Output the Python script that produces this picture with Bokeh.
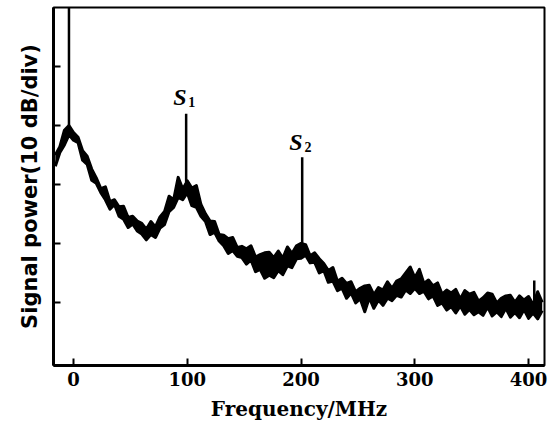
from bokeh.plotting import figure
from bokeh.models import Range1d, FixedTicker
from bokeh.core.properties import value
from bokeh.embed import file_html
from bokeh.resources import INLINE

# ---- data ----
freq_mhz = [-16, -12, -8, -4, 0, 4, 8, 12, 16, 20, 24, 28, 32, 36, 40, 44, 48, 52, 56, 60,
            64, 68, 72, 76, 80, 84, 88, 92, 96, 100, 104, 108, 112, 116, 120, 124, 128, 132, 136, 140,
            144, 148, 152, 156, 160, 164, 168, 172, 176, 180, 184, 188, 192, 196, 200, 204, 208, 212, 216, 220,
            224, 228, 232, 236, 240, 244, 248, 252, 256, 260, 264, 268, 272, 276, 280, 284, 288, 292, 296, 300,
            304, 308, 312, 316, 320, 324, 328, 332, 336, 340, 344, 348, 352, 356, 360, 364, 368, 372, 376, 380,
            384, 388, 392, 396, 400, 404, 408, 412]

trace_a_db = [-25.0, -23.6, -20.8, -20.0, -21.2, -22.0, -24.3, -25.2, -27.4, -28.9,
              -30.7, -30.4, -32.9, -32.6, -33.8, -33.7, -35.6, -35.4, -36.2, -36.6,
              -37.6, -36.3, -37.2, -35.5, -34.6, -32.0, -32.6, -28.8, -30.8, -29.4,
              -30.6, -30.2, -33.4, -35.0, -36.2, -36.3, -38.5, -38.6, -39.2, -39.0,
              -40.7, -40.5, -40.9, -40.4, -42.3, -41.9, -41.6, -41.5, -42.4, -41.3,
              -42.5, -40.6, -41.7, -40.4, -40.0, -40.2, -42.1, -41.6, -42.6, -43.4,
              -44.6, -44.1, -46.4, -45.9, -46.8, -46.5, -48.2, -47.6, -47.2, -47.1,
              -48.7, -47.5, -47.9, -46.5, -47.6, -46.4, -46.0, -45.0, -44.0, -45.8,
              -44.4, -46.8, -46.2, -47.2, -46.7, -48.6, -47.9, -48.4, -47.8, -49.4,
              -48.0, -48.6, -48.3, -49.8, -49.2, -48.4, -48.6, -50.1, -49.3, -48.9,
              -48.8, -50.0, -48.9, -49.6, -49.0, -50.4, -48.2, -50.0]

trace_b_db = [-26.9, -24.6, -23.3, -21.6, -22.5, -22.9, -25.9, -26.6, -29.3, -29.8,
              -31.4, -32.6, -34.2, -33.4, -35.4, -35.9, -37.3, -36.7, -37.9, -38.4,
              -39.4, -38.5, -39.0, -37.4, -36.8, -34.6, -33.9, -32.2, -32.6, -31.4,
              -33.6, -33.9, -35.4, -36.3, -38.5, -38.1, -39.6, -40.4, -41.7, -41.2,
              -42.2, -42.4, -43.5, -42.8, -44.8, -44.4, -45.9, -45.4, -45.8, -44.6,
              -45.3, -43.8, -44.1, -42.6, -42.5, -42.0, -43.3, -43.2, -45.0, -44.6,
              -46.6, -46.4, -48.0, -47.6, -49.3, -48.4, -50.1, -49.4, -51.6, -49.2,
              -51.0, -49.6, -50.5, -49.3, -49.7, -48.8, -49.1, -47.9, -48.5, -47.6,
              -48.5, -48.1, -49.4, -48.9, -50.5, -50.1, -51.3, -50.7, -51.8, -50.6,
              -52.0, -51.2, -52.1, -51.6, -52.2, -50.8, -52.3, -51.6, -52.4, -51.0,
              -52.5, -51.7, -52.6, -51.2, -52.7, -51.8, -52.8, -51.4]

spike_freq = [-4, 99, 201, 405]
spike_base_db = [-20.0, -29.6, -41.0, -49.6]
spike_top_db = [2.0, -18.0, -25.4, -46.3]

peak_names = ["S", "S"]
peak_subs = ["1", "2"]
peak_freq = [97, 199]
peak_db = [-15.2, -22.8]

x_ticks = [0, 100, 200, 300, 400]
y_ticks = [-50, -40, -30, -20, -10]

# ---- figure ----
p = figure(width=550, height=431, x_range=Range1d(-17.6, 414), y_range=Range1d(-60.7, 0),
           output_backend="svg", toolbar_location=None,
           min_border_left=53, min_border_right=6, min_border_top=7, min_border_bottom=66)
p.grid.visible = False
p.outline_line_color = "black"
p.outline_line_width = 2
p.background_fill_color = "white"
p.border_fill_color = "white"

for ax in (p.xaxis, p.yaxis):
    ax.axis_line_width = 3
    ax.axis_line_color = "black"
    ax.major_tick_in = 7
    ax.major_tick_out = 0
    ax.major_tick_line_width = 2
    ax.minor_tick_line_color = None

p.xaxis.ticker = FixedTicker(ticks=x_ticks)
p.xaxis.major_label_text_font = "DejaVu Serif"
p.xaxis.major_label_text_font_style = "bold"
p.xaxis.major_label_text_font_size = "18px"
p.xaxis.major_label_text_color = "black"
p.xaxis.major_label_standoff = 6
p.xaxis.axis_label = "Frequency/MHz"
p.xaxis.axis_label_text_font = "DejaVu Serif"
p.xaxis.axis_label_text_font_style = "bold"
p.xaxis.axis_label_text_font_size = "20px"
p.xaxis.axis_label_text_color = "black"
p.xaxis.axis_label_standoff = 8

p.yaxis.ticker = FixedTicker(ticks=y_ticks)
p.yaxis.major_label_overrides = {t: "" for t in y_ticks}
p.yaxis.major_label_standoff = 0
p.yaxis.axis_label = "Signal power(10 dB/div)"
p.yaxis.axis_label_text_font = "DejaVu Sans"
p.yaxis.axis_label_text_font_style = "bold"
p.yaxis.axis_label_text_font_size = "21px"
p.yaxis.axis_label_text_color = "black"
p.yaxis.axis_label_standoff = 12

p.varea(x=freq_mhz, y1=trace_b_db, y2=trace_a_db, fill_color="black")
p.line(freq_mhz, trace_b_db, line_color="black", line_width=3, line_join="round")
p.line(freq_mhz, trace_a_db, line_color="black", line_width=3, line_join="round")
p.segment(x0=spike_freq, y0=spike_base_db, x1=spike_freq, y1=spike_top_db,
          line_color="black", line_width=2.5)

p.text(x=peak_freq, y=peak_db, text=peak_names, text_font=value("Liberation Serif"),
       text_font_style="bold italic", text_font_size="24px", text_align="center",
       text_baseline="middle", text_color="black", x_offset=-4)
p.text(x=peak_freq, y=peak_db, text=peak_subs, text_font=value("Liberation Serif"),
       text_font_style="bold", text_font_size="14px", text_align="center",
       text_baseline="middle", text_color="black", x_offset=8, y_offset=5)

open("out.html", "w").write(file_html(p, INLINE))
